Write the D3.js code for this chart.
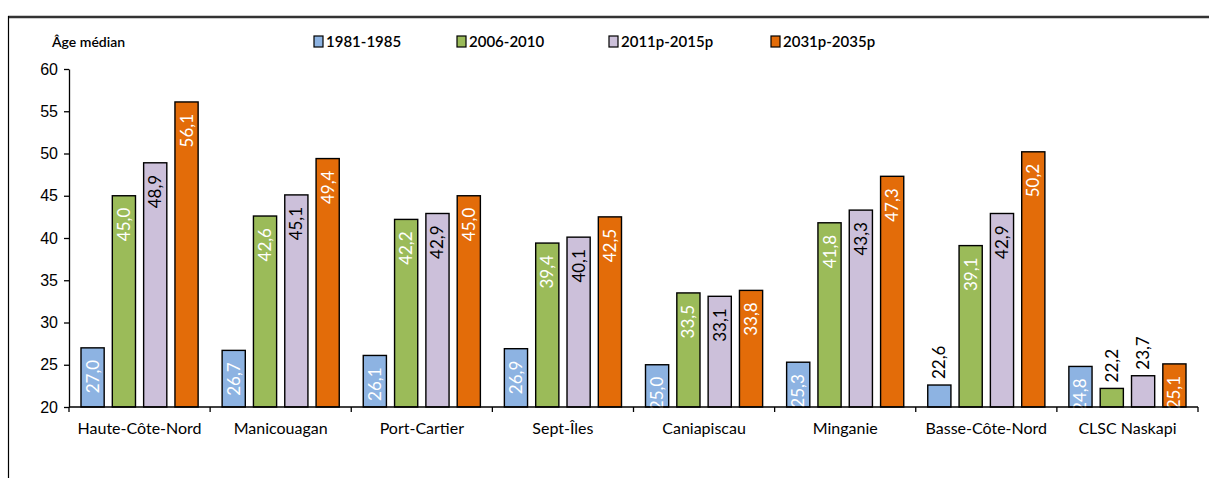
<!DOCTYPE html>
<html>
<head>
<meta charset="utf-8">
<script src="https://cdn.jsdelivr.net/npm/d3@7"></script>
<style>
  body { margin: 0; background: #fff; }
  svg { display: block; font-family: Lato, "Open Sans", sans-serif; }
  .axis path, .axis line { stroke: #000; stroke-width: 1.3; }
  .axis text { fill: #000; }
</style>
</head>
<body>
<svg id="chart" width="1209" height="478"></svg>
<script>
// régions et séries (âge médian)
const regions = ["Haute-Côte-Nord", "Manicouagan", "Port-Cartier", "Sept-Îles",
                 "Caniapiscau", "Minganie", "Basse-Côte-Nord", "CLSC Naskapi"];
const periods = ["1981-1985", "2006-2010", "2011p-2015p", "2031p-2035p"];
const v1981 = [27.0, 26.7, 26.1, 26.9, 25.0, 25.3, 22.6, 24.8];
const v2006 = [45.0, 42.6, 42.2, 39.4, 33.5, 41.8, 39.1, 22.2];
const v2011 = [48.9, 45.1, 42.9, 40.1, 33.1, 43.3, 42.9, 23.7];
const v2031 = [56.1, 49.4, 45.0, 42.5, 33.8, 47.3, 50.2, 25.1];
const yTicks = [20, 25, 30, 35, 40, 45, 50, 55, 60];

const colors = ["#8DB3E2", "#9BBB59", "#CCC0DA", "#E36C09"];
const labelColors = ["#fff", "#fff", "#000", "#fff"];
const series = [v1981, v2006, v2011, v2031];

const svg = d3.select("#chart");

// cadre
svg.append("line").attr("x1", 8).attr("x2", 1209).attr("y1", 17).attr("y2", 17)
    .attr("stroke", "#333").attr("stroke-width", 2.5);
svg.append("line").attr("x1", 8.5).attr("x2", 8.5).attr("y1", 16).attr("y2", 478)
    .attr("stroke", "#000").attr("stroke-width", 1.2);

const mLeft = 69, mRight = 1198, mTop = 69, mBottom = 407;

const x0 = d3.scaleBand().domain(regions).range([mLeft, mRight]).padding(0);
const x1 = d3.scaleBand().domain(d3.range(4))
    .range([12, x0.bandwidth() - 12]).paddingInner(0.26).paddingOuter(0);
const y = d3.scaleLinear().domain([20, 60]).range([mBottom, mTop]);

const fmt = v => d3.format(".1f")(v).replace(".", ",");

// axe Y
const yAxis = svg.append("g").attr("class", "axis")
    .attr("transform", `translate(${mLeft},0)`)
    .call(d3.axisLeft(y).tickValues(yTicks).tickSize(5).tickPadding(6).tickSizeOuter(0));
yAxis.selectAll("text").style("font-size", "16px");

// barres
const groups = svg.append("g").selectAll("g")
    .data(regions).enter().append("g")
    .attr("transform", d => `translate(${x0(d)},0)`);

groups.each(function(region, i) {
    const g = d3.select(this);
    series.forEach((s, k) => {
        const v = s[i];
        const bx = x1(k), bw = x1.bandwidth();
        g.append("rect")
            .attr("x", bx).attr("y", y(v))
            .attr("width", bw).attr("height", y(20) - y(v))
            .attr("fill", colors[k]).attr("stroke", "#000").attr("stroke-width", 1.4);

        const inside = (y(20) - y(v)) > 38;
        const cx = bx + bw / 2;
        const ty = inside ? y(v) + 12 : y(v) - 6;
        g.append("text")
            .attr("transform", `translate(${cx + 6},${ty}) rotate(-90)`)
            .attr("text-anchor", inside ? "end" : "start")
            .style("font-size", "17px")
            .attr("fill", inside ? labelColors[k] : "#000")
            .text(fmt(v));
    });
});

// axe X
const xAxis = svg.append("g").attr("class", "axis")
    .attr("transform", `translate(0,${mBottom})`);
xAxis.append("line").attr("x1", mLeft).attr("x2", mRight).attr("y1", 0).attr("y2", 0);
xAxis.selectAll(".sep").data(d3.range(regions.length + 1)).enter().append("line")
    .attr("x1", d => mLeft + d * x0.step()).attr("x2", d => mLeft + d * x0.step())
    .attr("y1", 0).attr("y2", 5);
xAxis.selectAll(".lab").data(regions).enter().append("text")
    .attr("x", d => x0(d) + x0.bandwidth() / 2).attr("y", 27)
    .attr("text-anchor", "middle").style("font-size", "16px")
    .text(d => d);

// titre de l'axe
svg.append("text").attr("x", 52).attr("y", 47)
    .style("font-size", "14px").style("font-weight", "600")
    .text("Âge médian");

// légende
const legendX = [314, 457, 609, 771];
const legend = svg.append("g").selectAll("g").data(periods).enter().append("g")
    .attr("transform", (d, i) => `translate(${legendX[i]},36)`);
legend.append("rect").attr("width", 9).attr("height", 11)
    .attr("fill", (d, i) => colors[i]).attr("stroke", "#000").attr("stroke-width", 1.2);
legend.append("text").attr("x", 12).attr("y", 11)
    .style("font-size", "15px").style("font-weight", "600")
    .text(d => d);
</script>
</body>
</html>
